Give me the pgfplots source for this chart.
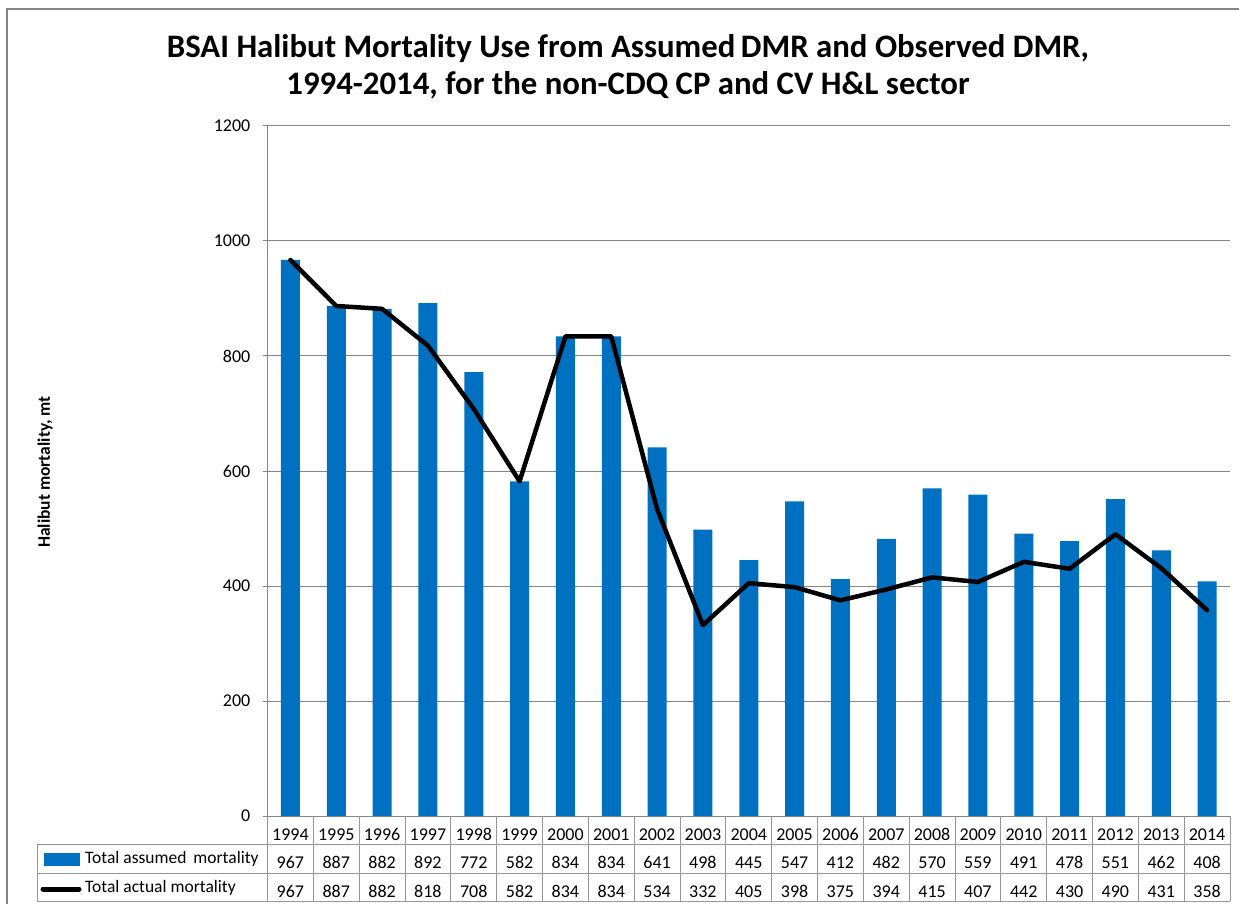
\documentclass[border=0pt]{standalone}
\usepackage{pgfplots}
\pgfplotsset{compat=1.18}
\usepackage{pgfplotstable}
\usepackage{fontspec}
\setmainfont{Carlito}
\definecolor{barblue}{RGB}{0,112,192}
\definecolor{gridgray}{RGB}{134,134,134}
\definecolor{tabgray}{RGB}{150,150,150}
\pgfplotstableread{
idx year assumed actual
0 1994 967 967
1 1995 887 887
2 1996 882 882
3 1997 892 818
4 1998 772 708
5 1999 582 582
6 2000 834 834
7 2001 834 834
8 2002 641 534
9 2003 498 332
10 2004 445 405
11 2005 547 398
12 2006 412 375
13 2007 482 394
14 2008 570 415
15 2009 559 407
16 2010 491 442
17 2011 478 430
18 2012 551 490
19 2013 462 431
20 2014 408 358
}\datatable
\newcommand{\R}{\rule{0pt}{13pt}}
\begin{document}
\begin{tikzpicture}
\useasboundingbox (0pt,0pt) rectangle (1239pt,903pt);
\begin{scope}[x=1pt,y=1pt]
% outer chart border
\draw[gridgray, line width=1.5pt] (7,-20) -- (7,894) -- (1260,894);
% title
\node[font=\fontsize{32.8}{37}\selectfont\bfseries, align=center] at (628,836) {BSAI Halibut Mortality Use from Assumed\,DMR and Observed DMR,\\1994-2014, for the non-CDQ CP and CV H\&L sector};
% y label
\node[font=\fontsize{17.5}{19}\selectfont\bfseries, rotate=90] at (45,431) {Halibut mortality, mt};
\end{scope}
\begin{axis}[
  at={(267.5pt,87pt)}, anchor=south west,
  width=962.5pt, height=690pt, scale only axis,
  xmin=-0.5, xmax=20.5, ymin=0, ymax=1200,
  ytick={0,200,...,1200},
  /pgf/number format/assume math mode=true,
  /pgf/number format/1000 sep={},
  ymajorgrids, grid style={gridgray, line width=1pt},
  axis x line=bottom, axis y line=left,
  axis line style={-, gridgray, line width=1pt},
  y tick style={gridgray, line width=1pt},
  major tick length=5pt,
  tick align=outside,
  xtick=data, x tick style={draw=none},
  xticklabels={{\R1994\\\R967\\\R967},{\R1995\\\R887\\\R887},{\R1996\\\R882\\\R882},{\R1997\\\R892\\\R818},{\R1998\\\R772\\\R708},{\R1999\\\R582\\\R582},{\R2000\\\R834\\\R834},{\R2001\\\R834\\\R834},{\R2002\\\R641\\\R534},{\R2003\\\R498\\\R332},{\R2004\\\R445\\\R405},{\R2005\\\R547\\\R398},{\R2006\\\R412\\\R375},{\R2007\\\R482\\\R394},{\R2008\\\R570\\\R415},{\R2009\\\R559\\\R407},{\R2010\\\R491\\\R442},{\R2011\\\R478\\\R430},{\R2012\\\R551\\\R490},{\R2013\\\R462\\\R431},{\R2014\\\R408\\\R358}},
  xticklabel style={font=\fontsize{18}{28.5}\selectfont, align=center, anchor=north, inner sep=0pt, yshift=-6pt},
  yticklabel style={font=\fontsize{18}{20}\selectfont, black, anchor=east, inner sep=0pt, xshift=-12pt},
  clip=false,
]
\addplot[ybar, bar width=19pt, fill=barblue, draw=none] table[x=idx, y=assumed]{\datatable};
\addplot[black, line width=4.5pt, line join=round, line cap=round] table[x=idx, y=actual]{\datatable};
\end{axis}
\begin{scope}[x=1pt,y=1pt]
% data table grid
\draw[tabgray, line width=1pt] (37,59) -- (1230,59);
\draw[tabgray, line width=1pt] (37,30) -- (1230,30);
\draw[tabgray, line width=1pt] (37,2) -- (1230,2);
\draw[tabgray, line width=1pt] (37,59) -- (37,2);
\foreach \k in {0,...,21} {
  \draw[tabgray, line width=1pt] ({267.5+\k*45.8333},87) -- ({267.5+\k*45.8333},2);
}
% legend keys
\fill[barblue] (44,37) rectangle (80,50);
\draw[black, line width=5pt, line cap=round] (43,14) -- (79,14);
\node[font=\fontsize{17.5}{20}\selectfont, anchor=west, inner sep=0pt] at (85,44.5) {Total assumed\, mortality};
\node[font=\fontsize{17.5}{20}\selectfont, anchor=west, inner sep=0pt] at (85,15.5) {Total actual mortality};
\end{scope}
\end{tikzpicture}
\end{document}
